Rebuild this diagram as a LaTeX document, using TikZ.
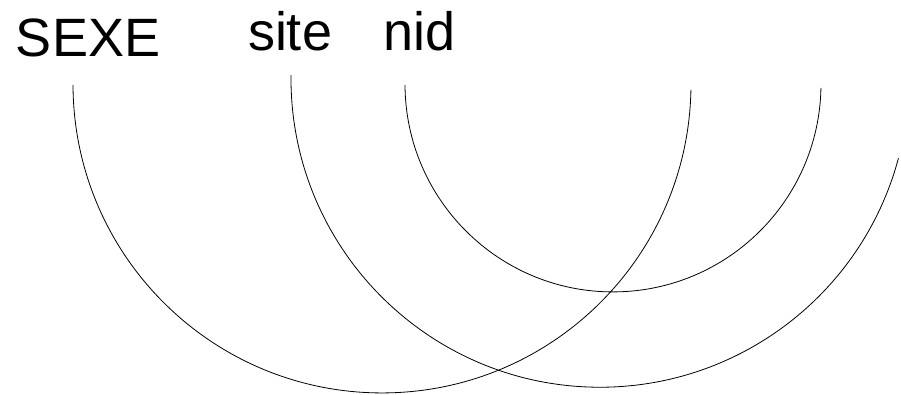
\documentclass[tikz,border=0pt]{standalone}
\usepackage{fontspec}
\setmainfont{Liberation Sans}
\begin{document}
\begin{tikzpicture}[x=1pt,y=1pt,
  arcline/.style={line width=0.8pt, black},
  lbl/.style={anchor=base west, inner sep=0pt, outer sep=0pt, font=\fontsize{54}{58}\selectfont}]
\useasboundingbox (0,0) rectangle (901,-394);
\clip (0,0) rectangle (901,-394);
\node[lbl] (sexe) at (16,-56) {SEXE};
\node[lbl] (site) at (248,-50) {site};
\node[lbl] (nid) at (383,-50) {nid};
\coordinate (a1) at (73,-85);
\coordinate (a2) at (291,-75);
\coordinate (a3) at (405,-85);
\draw[arcline] (a1) arc[start angle=180.2, end angle=358.9, radius=309];
\draw[arcline] (a2) arc[start angle=179.4, end angle=345, radius=309];
\draw[arcline] (a3) arc[start angle=180.3, end angle=358.9, radius=208];
\end{tikzpicture}
\end{document}
